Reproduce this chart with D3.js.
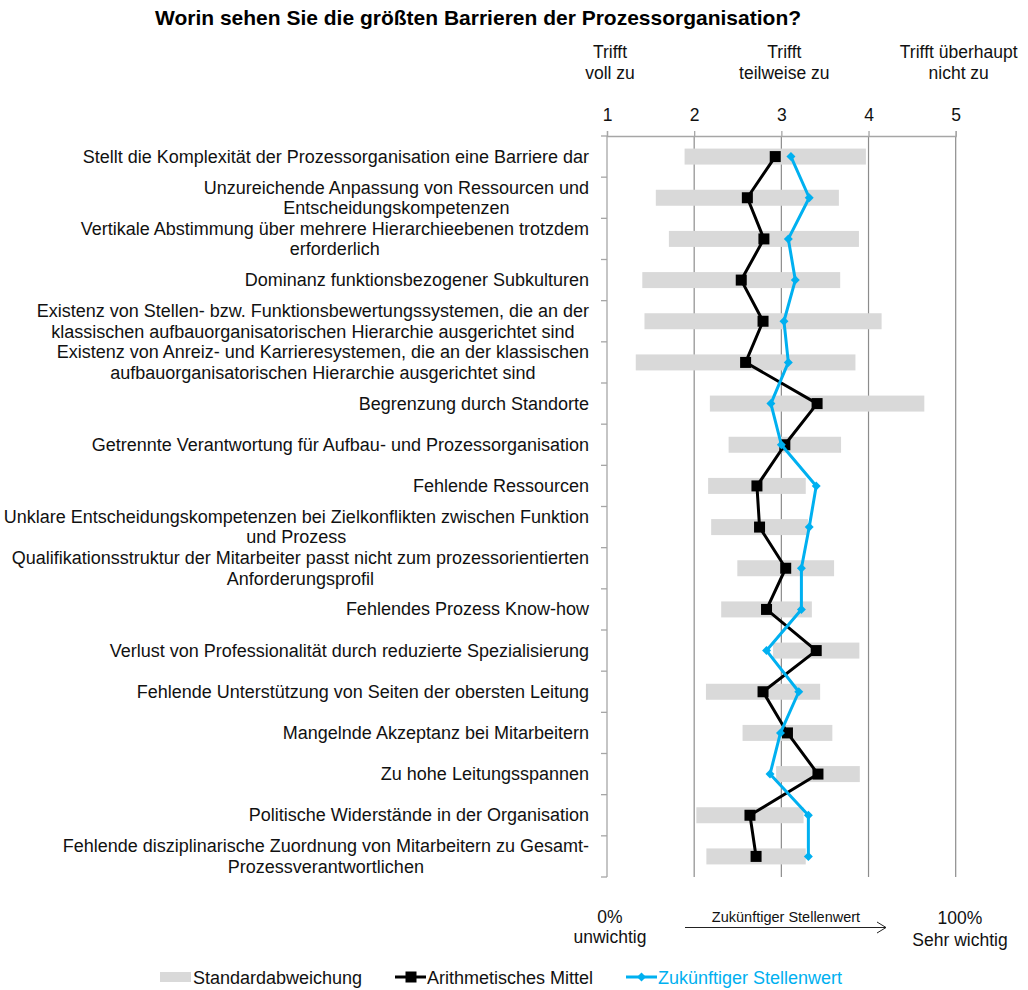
<!DOCTYPE html>
<html>
<head>
<meta charset="utf-8">
<script src="https://cdn.jsdelivr.net/npm/d3@7"></script>
<style>
  body { margin: 0; background: #fff; }
  svg { font-family: "Liberation Sans", Arial, sans-serif; }
</style>
</head>
<body>
<svg id="chart" width="1028" height="990"></svg>
<script>
const categories = [
  ["Stellt die Komplexität der Prozessorganisation eine Barriere dar"],
  ["Unzureichende Anpassung von Ressourcen und", "Entscheidungskompetenzen"],
  ["Vertikale Abstimmung über mehrere Hierarchieebenen trotzdem", "erforderlich"],
  ["Dominanz funktionsbezogener Subkulturen"],
  ["Existenz von Stellen- bzw. Funktionsbewertungssystemen, die an der", "klassischen aufbauorganisatorischen Hierarchie ausgerichtet sind"],
  ["Existenz von Anreiz- und Karrieresystemen, die an der klassischen", "aufbauorganisatorischen Hierarchie ausgerichtet sind"],
  ["Begrenzung durch Standorte"],
  ["Getrennte Verantwortung für Aufbau- und Prozessorganisation"],
  ["Fehlende Ressourcen"],
  ["Unklare Entscheidungskompetenzen bei Zielkonflikten zwischen Funktion", "und Prozess"],
  ["Qualifikationsstruktur der Mitarbeiter passt nicht zum prozessorientierten", "Anforderungsprofil"],
  ["Fehlendes Prozess Know-how"],
  ["Verlust von Professionalität durch reduzierte Spezialisierung"],
  ["Fehlende Unterstützung von Seiten der obersten Leitung"],
  ["Mangelnde Akzeptanz bei Mitarbeitern"],
  ["Zu hohe Leitungsspannen"],
  ["Politische Widerstände in der Organisation"],
  ["Fehlende disziplinarische Zuordnung von Mitarbeitern zu Gesamt-", "Prozessverantwortlichen"]
];
const meanValues   = [2.93, 2.61, 2.80, 2.54, 2.79, 2.59, 3.41, 3.04, 2.72, 2.75, 3.05, 2.83, 3.40, 2.79, 3.07, 3.42, 2.64, 2.71];
const stdDevValues = [1.04, 1.05, 1.09, 1.135, 1.36, 1.26, 1.23, 0.645, 0.56, 0.555, 0.555, 0.52, 0.495, 0.655, 0.515, 0.48, 0.615, 0.57];
const futureValues = [3.11, 3.32, 3.08, 3.16, 3.03, 3.08, 2.88, 3.00, 3.40, 3.32, 3.23, 3.23, 2.83, 3.20, 2.99, 2.87, 3.31, 3.31];
const tickValues = [1, 2, 3, 4, 5];
const headerLabels = [
  { value: 1, lines: ["Trifft", "voll zu"] },
  { value: 3, lines: ["Trifft", "teilweise zu"] },
  { value: 5, lines: ["Trifft überhaupt", "nicht zu"] }
];
const titleText = "Worin sehen Sie die größten Barrieren der Prozessorganisation?";
const legendLabels = ["Standardabweichung", "Arithmetisches Mittel", "Zukünftiger Stellenwert"];

(function () {
const svg = d3.select("#chart");
const pLeft = 607, pRight = 955.7, pTop = 136, pBottom = 877;
const GRAY = "#d9d9d9", BLUE = "#00b0f0", TXT = "#111";

const x = d3.scaleLinear().domain([1, 5]).range([pLeft, pRight]);
const y = d3.scaleBand().domain(d3.range(categories.length)).range([pTop, pBottom]).paddingInner(0).paddingOuter(0);

// title
svg.append("text").attr("x", 478).attr("y", 25).attr("text-anchor", "middle")
  .attr("font-size", "21px").attr("font-weight", "bold").text(titleText);

// header labels
headerLabels.forEach(h => {
  const t = svg.append("text").attr("text-anchor", "middle").attr("font-size", "17.5px").attr("fill", TXT);
  h.lines.forEach((l, i) => {
    t.append("tspan").attr("x", x(h.value) + 3).attr("y", 58 + i * 21).text(l);
  });
});

// gridlines
svg.append("g").selectAll("line").data(tickValues.filter(v => v > 1)).join("line")
  .attr("x1", d => x(d)).attr("x2", d => x(d)).attr("y1", pTop).attr("y2", pBottom)
  .attr("stroke", "#8c8c8c").attr("stroke-width", 1.2);

// top axis
const topAxis = d3.axisTop(x).tickValues(tickValues).tickSize(5).tickPadding(10).tickFormat(d3.format("d"));
const gTop = svg.append("g").attr("transform", `translate(0,${pTop})`).call(topAxis);
gTop.select(".domain").attr("stroke", "#a6a6a6").attr("stroke-width", 1.3);
gTop.selectAll(".tick line").attr("stroke", "#a6a6a6").attr("stroke-width", 1.3);
gTop.selectAll(".tick text").attr("font-size", "17.5px").attr("fill", TXT)
  .attr("font-family", "Liberation Sans, Arial, sans-serif");

// left axis with ticks at band boundaries
const boundaries = d3.range(categories.length + 1).map(i => pTop + i * y.step());
svg.append("line").attr("x1", pLeft).attr("x2", pLeft).attr("y1", pTop).attr("y2", pBottom)
  .attr("stroke", "#a6a6a6").attr("stroke-width", 1.3);
svg.append("g").selectAll("line").data(boundaries).join("line")
  .attr("x1", pLeft - 6).attr("x2", pLeft).attr("y1", d => d).attr("y2", d => d)
  .attr("stroke", "#a6a6a6").attr("stroke-width", 1.3);

const cy = i => y(i) + y.bandwidth() / 2;

// std dev bars
const barH = 16;
svg.append("g").selectAll("rect").data(meanValues).join("rect")
  .attr("x", (d, i) => x(d - stdDevValues[i]))
  .attr("width", (d, i) => x(d + stdDevValues[i]) - x(d - stdDevValues[i]))
  .attr("y", (d, i) => cy(i) - barH / 2)
  .attr("height", barH)
  .attr("fill", GRAY);

// mean line
const lineGen = d3.line().x(d => x(d)).y((d, i) => cy(i));
svg.append("path").attr("d", lineGen(meanValues)).attr("fill", "none")
  .attr("stroke", "#000").attr("stroke-width", 3).attr("stroke-linejoin", "round");
svg.append("g").selectAll("rect").data(meanValues).join("rect")
  .attr("x", d => x(d) - 5.5).attr("y", (d, i) => cy(i) - 5.5)
  .attr("width", 11).attr("height", 11).attr("fill", "#000");

// future line
svg.append("path").attr("d", lineGen(futureValues)).attr("fill", "none")
  .attr("stroke", BLUE).attr("stroke-width", 3).attr("stroke-linejoin", "round");
svg.append("g").selectAll("path").data(futureValues).join("path")
  .attr("d", d3.symbol().type(d3.symbolSquare).size(40))
  .attr("transform", (d, i) => `translate(${x(d)},${cy(i)}) rotate(45)`)
  .attr("fill", BLUE);

// category labels: block right-aligned, lines centered within block
const labelRight = 589;
const gLab = svg.append("g").attr("font-size", "18px").attr("fill", TXT);
categories.forEach((lines, i) => {
  const t = gLab.append("text").attr("text-anchor", "middle");
  const lh = 20.5;
  const y0 = cy(i) - (lines.length - 1) * lh / 2 + 6;
  const spans = lines.map((l, k) => t.append("tspan").attr("y", y0 + k * lh).text(l));
  const widths = spans.map(s => s.node().getComputedTextLength());
  const maxW = d3.max(widths);
  spans.forEach(s => s.attr("x", labelRight - maxW / 2));
});

// bottom annotation
const bt = svg.append("g").attr("font-size", "17.5px").attr("fill", TXT).attr("text-anchor", "middle");
bt.append("text").attr("x", 610).attr("y", 923).text("0%");
bt.append("text").attr("x", 610).attr("y", 943).text("unwichtig");
bt.append("text").attr("x", 960).attr("y", 924).text("100%");
bt.append("text").attr("x", 960).attr("y", 946).text("Sehr wichtig");
bt.append("text").attr("x", 786).attr("y", 922).attr("font-size", "14.5px").text("Zukünftiger Stellenwert");
svg.append("line").attr("x1", 685).attr("x2", 886).attr("y1", 927.5).attr("y2", 927.5)
  .attr("stroke", "#222").attr("stroke-width", 1);
svg.append("path").attr("d", "M877,922 L886,927.5 L877,933").attr("fill", "none")
  .attr("stroke", "#222").attr("stroke-width", 1);

// legend
const ly = 977;
const lg = svg.append("g").attr("font-size", "18px");
lg.append("rect").attr("x", 160).attr("y", ly - 5).attr("width", 31).attr("height", 10).attr("fill", GRAY);
lg.append("text").attr("x", 193).attr("y", ly + 6.5).attr("fill", TXT).text(legendLabels[0]);
lg.append("line").attr("x1", 395).attr("x2", 426).attr("y1", ly).attr("y2", ly).attr("stroke", "#000").attr("stroke-width", 3);
lg.append("rect").attr("x", 405.5).attr("y", ly - 5.5).attr("width", 11).attr("height", 11).attr("fill", "#000");
lg.append("text").attr("x", 427).attr("y", ly + 6.5).attr("fill", TXT).text(legendLabels[1]);
lg.append("line").attr("x1", 626).attr("x2", 657).attr("y1", ly).attr("y2", ly).attr("stroke", BLUE).attr("stroke-width", 3);
lg.append("path").attr("d", d3.symbol().type(d3.symbolSquare).size(40))
  .attr("transform", `translate(641.5,${ly}) rotate(45)`).attr("fill", BLUE);
lg.append("text").attr("x", 658).attr("y", ly + 6.5).attr("fill", BLUE).text(legendLabels[2]);
})();
</script>
</body>
</html>
